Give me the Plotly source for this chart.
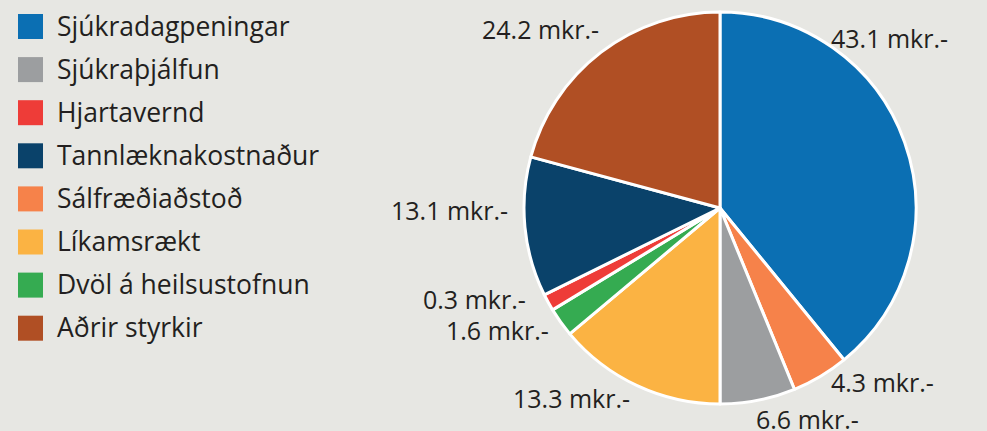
import plotly.graph_objects as go

W, H = 987, 431

# Slice order (clockwise from 12 o'clock)
slice_labels = ["Sjúkradagpeningar", "Sálfræðiaðstoð", "Sjúkraþjálfun", "Líkamsrækt",
                "Dvöl á heilsustofnun", "Hjartavernd", "Tannlæknakostnaður", "Aðrir styrkir"]
# Slice shares as drawn (percent of the circle)
slice_shares = [39.1, 4.7, 6.2, 13.9, 2.4, 1.4, 11.5, 20.8]
# Printed amounts (mkr.)
amounts = [43.1, 4.3, 6.6, 13.3, 1.6, 0.3, 13.1, 24.2]

# Legend order
legend_labels = ["Sjúkradagpeningar", "Sjúkraþjálfun", "Hjartavernd", "Tannlæknakostnaður",
                 "Sálfræðiaðstoð", "Líkamsrækt", "Dvöl á heilsustofnun", "Aðrir styrkir"]

colors = {
    "Sjúkradagpeningar": "#0b6fb3",
    "Sjúkraþjálfun": "#9c9ea0",
    "Hjartavernd": "#ee3c38",
    "Tannlæknakostnaður": "#0a426a",
    "Sálfræðiaðstoð": "#f6824a",
    "Líkamsrækt": "#fbb343",
    "Dvöl á heilsustofnun": "#35ab51",
    "Aðrir styrkir": "#b04f24",
}

BG = "#e7e7e3"
TXT = "#231f20"
FONT = "Open Sans"

def px(x):
    return x / W

def py(y):
    return 1 - y / H

fig = go.Figure()
fig.add_trace(go.Pie(
    labels=slice_labels,
    values=slice_shares,
    sort=False,
    direction="clockwise",
    rotation=0,
    marker=dict(colors=[colors[l] for l in slice_labels], line=dict(color="white", width=3)),
    textinfo="none",
    hoverinfo="skip",
    showlegend=False,
    domain=dict(x=[px(524), px(916)], y=[py(404), py(12)]),
))

# value label placement (left edge x, vertical centre y in pixels), same order as slices
label_pos = [(830, 38), (830, 382), (755, 418.5), (512, 398),
             (445, 329.5), (422, 298.5), (390, 209.5), (481, 29.5)]

annotations = []
for amt, (lx, ly) in zip(amounts, label_pos):
    annotations.append(dict(
        x=px(lx), y=py(ly), xref="paper", yref="paper",
        text=f"{amt:.1f} mkr.-", showarrow=False, xanchor="left", yanchor="middle",
        font=dict(family=FONT, size=25, color=TXT), borderpad=0,
    ))

shapes = []
leg_x0, leg_size, leg_y0, leg_step = 18, 25, 14, 43.1
for i, lab in enumerate(legend_labels):
    top = leg_y0 + i * leg_step
    shapes.append(dict(type="rect", xref="paper", yref="paper",
                       x0=px(leg_x0), x1=px(leg_x0 + leg_size),
                       y0=py(top + leg_size), y1=py(top),
                       fillcolor=colors[lab], line=dict(width=0)))
    annotations.append(dict(
        x=px(56), y=py(top + leg_size / 2 - 1), xref="paper", yref="paper",
        text=lab, showarrow=False, xanchor="left", yanchor="middle",
        font=dict(family=FONT, size=26.5, color=TXT), borderpad=0,
    ))

fig.update_layout(
    width=W, height=H,
    margin=dict(l=0, r=0, t=0, b=0),
    paper_bgcolor=BG, plot_bgcolor=BG,
    annotations=annotations, shapes=shapes,
    showlegend=False,
)

fig.write_html(
    "out.html",
    config={"displayModeBar": False},
    post_script="document.body.style.margin='0';document.body.style.overflow='hidden';",
)
